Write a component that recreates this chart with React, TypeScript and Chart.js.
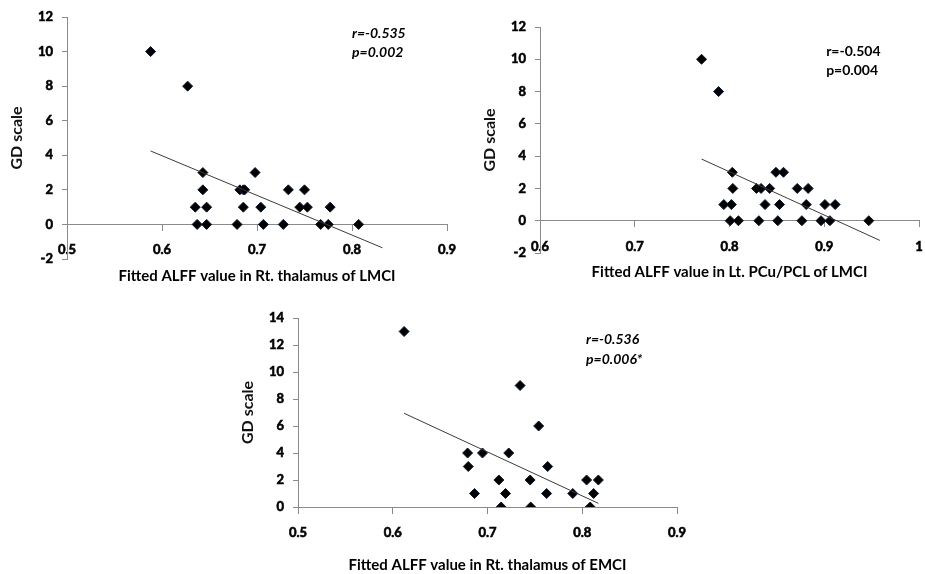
import React, { useEffect, useRef } from "react";
import { Chart, registerables } from "chart.js";

Chart.register(...registerables);

// ---------- Data ----------
// Panel 1: Rt. thalamus of LMCI
const p1X = [0.588, 0.627, 0.643, 0.643, 0.635, 0.647, 0.637, 0.647, 0.679, 0.682, 0.6856, 0.687, 0.6856, 0.698, 0.704, 0.7067, 0.7277, 0.733, 0.745, 0.75, 0.753, 0.767, 0.775, 0.777, 0.807];
const p1Y = [10, 8, 3, 2, 1, 1, 0, 0, 0, 2, 2, 2, 1, 3, 1, 0, 0, 2, 1, 2, 1, 0, 0, 1, 0];
const p1FitX = [0.588, 0.832];
const p1FitY = [4.25, -1.35];
const p1XTicks = ["0.5", "0.6", "0.7", "0.8", "0.9"];
const p1YTicks = ["-2", "0", "2", "4", "6", "8", "10", "12"];
const p1Stats = ["r=-0.535", "p=0.002"];

// Panel 2: Lt. PCu/PCL of LMCI
const p2X = [0.7705, 0.7885, 0.803, 0.8035, 0.794, 0.802, 0.8007, 0.8094, 0.8285, 0.8333, 0.8424, 0.8375, 0.831, 0.849, 0.857, 0.8528, 0.851, 0.8715, 0.883, 0.881, 0.8764, 0.8966, 0.906, 0.9007, 0.9115, 0.947];
const p2Y = [10, 8, 3, 2, 1, 1, 0, 0, 2, 2, 2, 1, 0, 3, 3, 1, 0, 2, 2, 1, 0, 0, 0, 1, 1, 0];
const p2FitX = [0.7705, 0.9587];
const p2FitY = [3.82, -1.22];
const p2XTicks = ["0.6", "0.7", "0.8", "0.9", "1"];
const p2YTicks = ["-2", "0", "2", "4", "6", "8", "10", "12"];
const p2Stats = ["r=-0.504", "p=0.004"];

// Panel 3: Rt. thalamus of EMCI
const p3X = [0.612, 0.7344, 0.754, 0.679, 0.6947, 0.7224, 0.6797, 0.7635, 0.712, 0.745, 0.8046, 0.817, 0.6863, 0.719, 0.7624, 0.79, 0.812, 0.7144, 0.7456, 0.8084];
const p3Y = [13, 9, 6, 4, 4, 4, 3, 3, 2, 2, 2, 2, 1, 1, 1, 1, 1, 0, 0, 0];
const p3FitX = [0.612, 0.817];
const p3FitY = [6.94, 0.27];
const p3XTicks = ["0.5", "0.6", "0.7", "0.8", "0.9"];
const p3YTicks = ["0", "2", "4", "6", "8", "10", "12", "14"];
const p3Stats = ["r=-0.536", "p=0.006*"];

const Y_TITLE = "GD scale";
const X_TITLE_1 = "Fitted ALFF value in Rt. thalamus of LMCI";
const X_TITLE_2 = "Fitted ALFF value in Lt. PCu/PCL of LMCI";
const X_TITLE_3 = "Fitted ALFF value in Rt. thalamus of EMCI";

const FONT = "Lato, 'Open Sans', 'DejaVu Sans', sans-serif";
const WEIGHT = "bold";
const AXIS_COLOR = "#8a8a8a";

type PanelCfg = {
  left: number; top: number; width: number; height: number;
  xs: number[]; ys: number[]; fitX: number[]; fitY: number[];
  xMin: number; xMax: number; yMin: number; yMax: number;
  xTicks: string[]; yTicks: string[];
  xTitle: string;
  stats: string[]; statX: number; statY: number[]; italic: boolean;
  yWidth: number; padTop: number; padRight: number;
  xTitlePadTop: number; xTitlePadBottom: number; yTitlePad: number;
};

const statsPlugin = {
  id: "statsText",
  afterDraw(chart: any, _args: any, opts: any) {
    const { ctx } = chart;
    const xs = chart.scales.x;
    const ys = chart.scales.y;
    ctx.save();
    ctx.fillStyle = "#000";
    ctx.font = `${opts.italic ? "italic " : ""}bold 14px ${FONT}`;
    ctx.textAlign = "left";
    ctx.textBaseline = "middle";
    (opts.lines || []).forEach((t: string, i: number) => {
      ctx.fillText(t, xs.getPixelForValue(opts.x), ys.getPixelForValue(opts.y[i]));
    });
    ctx.restore();
  },
};

function Panel({ cfg }: { cfg: PanelCfg }) {
  const ref = useRef<HTMLCanvasElement | null>(null);
  useEffect(() => {
    if (!ref.current) return;
    const points = cfg.xs.map((x, i) => ({ x, y: cfg.ys[i] }));
    const fit = cfg.fitX.map((x, i) => ({ x, y: cfg.fitY[i] }));
    const tickFont = { family: FONT, size: 13, weight: WEIGHT };
    const chart = new Chart(ref.current, {
      type: "scatter",
      data: {
        datasets: [
          {
            type: "line",
            data: fit,
            borderColor: "#3a3a3a",
            borderWidth: 1,
            pointRadius: 0,
            showLine: true,
            fill: false,
          } as any,
          {
            data: points,
            pointStyle: "rectRot",
            pointRadius: 5,
            pointHoverRadius: 5,
            backgroundColor: "#000",
            borderColor: "#0d1a2e",
            borderWidth: 1,
          } as any,
        ],
      },
      options: {
        responsive: false,
        animation: false,
        events: [],
        layout: { padding: { left: 0, top: cfg.padTop, right: cfg.padRight, bottom: 0 } },
        plugins: {
          legend: { display: false },
          tooltip: { enabled: false },
          title: {
            display: true,
            text: cfg.xTitle,
            position: "bottom",
            fullSize: false,
            color: "#000",
            font: { family: FONT, size: 15, weight: WEIGHT },
            padding: { top: cfg.xTitlePadTop, bottom: cfg.xTitlePadBottom },
          },
          statsText: { lines: cfg.stats, x: cfg.statX, y: cfg.statY, italic: cfg.italic },
        } as any,
        scales: {
          x: {
            type: "linear",
            position: { y: 0 } as any,
            min: cfg.xMin,
            max: cfg.xMax,
            afterFit(s: any) {
              s.height = 0;
              s.paddingLeft = 0;
              s.paddingRight = 0;
            },
            ticks: {
              stepSize: 0.1,
              color: "#000",
              padding: 12,
              maxRotation: 0,
              autoSkip: false,
              font: tickFont,
              textStrokeColor: "#000",
              textStrokeWidth: 0.6,
              callback: (_v: any, i: number) => cfg.xTicks[i],
            } as any,
            grid: { drawOnChartArea: false, drawTicks: true, tickLength: 6, color: AXIS_COLOR },
            border: { display: true, color: AXIS_COLOR, width: 1 },
          },
          y: {
            type: "linear",
            position: "left",
            min: cfg.yMin,
            max: cfg.yMax,
            afterFit(s: any) {
              s.width = cfg.yWidth;
              s.paddingTop = 0;
              s.paddingBottom = 0;
            },
            ticks: {
              stepSize: 2,
              color: "#000",
              padding: 9,
              font: tickFont,
              textStrokeColor: "#000",
              textStrokeWidth: 0.6,
              callback: (_v: any, i: number) => cfg.yTicks[i],
            } as any,
            title: {
              display: true,
              text: Y_TITLE,
              color: "#111",
              font: { family: FONT, size: 16, weight: WEIGHT },
              padding: { top: cfg.yTitlePad, bottom: 0 },
            },
            grid: { drawOnChartArea: false, drawTicks: true, tickLength: 5, color: AXIS_COLOR },
            border: { display: true, color: AXIS_COLOR, width: 1 },
          },
        },
      },
      plugins: [statsPlugin as any],
    });
    return () => chart.destroy();
  }, [cfg]);
  return (
    <canvas
      ref={ref}
      width={cfg.width}
      height={cfg.height}
      style={{ position: "absolute", left: cfg.left, top: cfg.top, width: cfg.width, height: cfg.height }}
    />
  );
}

const panels: PanelCfg[] = [
  {
    left: 0, top: 0, width: 460, height: 290,
    xs: p1X, ys: p1Y, fitX: p1FitX, fitY: p1FitY,
    xMin: 0.5, xMax: 0.9, yMin: -2, yMax: 12,
    xTicks: p1XTicks, yTicks: p1YTicks, xTitle: X_TITLE_1,
    stats: p1Stats, statX: 0.8, statY: [11.07, 9.97], italic: true,
    yWidth: 67, padTop: 17, padRight: 13,
    xTitlePadTop: 8, xTitlePadBottom: 5, yTitlePad: 7.4,
  },
  {
    left: 460, top: 0, width: 465, height: 285,
    xs: p2X, ys: p2Y, fitX: p2FitX, fitY: p2FitY,
    xMin: 0.6, xMax: 1.0, yMin: -2, yMax: 12,
    xTicks: p2XTicks, yTicks: p2YTicks, xTitle: X_TITLE_2,
    stats: p2Stats, statX: 0.902, statY: [10.46, 9.29], italic: false,
    yWidth: 80, padTop: 27, padRight: 1,
    xTitlePadTop: 10, xTitlePadBottom: 4, yTitlePad: 20.4,
  },
  {
    left: 230, top: 290, width: 470, height: 284,
    xs: p3X, ys: p3Y, fitX: p3FitX, fitY: p3FitY,
    xMin: 0.5, xMax: 0.9, yMin: 0, yMax: 14,
    xTicks: p3XTicks, yTicks: p3YTicks, xTitle: X_TITLE_3,
    stats: p3Stats, statX: 0.804, statY: [12.44, 10.96], italic: true,
    yWidth: 68, padTop: 28, padRight: 23,
    xTitlePadTop: 49, xTitlePadBottom: 0, yTitlePad: 8.4,
  },
];

export default function App() {
  return (
    <div style={{ position: "absolute", left: 0, top: 0, width: 925, height: 574, background: "#fff", overflow: "hidden" }}>
      {panels.map((p, i) => (
        <Panel key={i} cfg={p} />
      ))}
    </div>
  );
}
